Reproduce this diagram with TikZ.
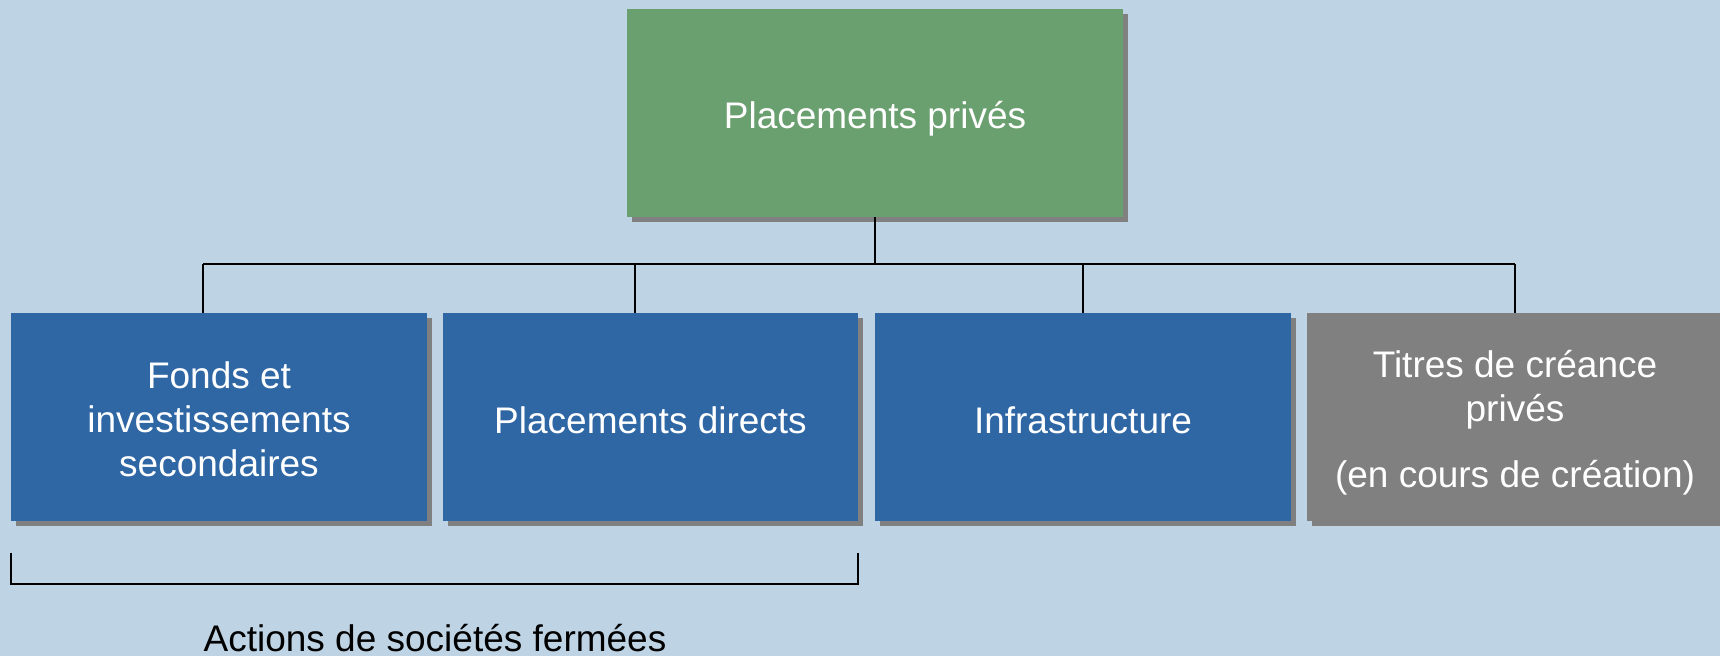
\documentclass[tikz,border=0pt]{standalone}
\usepackage{fontspec}
\setmainfont{Liberation Sans}
\usetikzlibrary{shadows}
\definecolor{bgblue}{RGB}{190,211,228}
\definecolor{topgreen}{RGB}{106,159,111}
\definecolor{boxblue}{RGB}{47,103,165}
\definecolor{boxgray}{RGB}{128,128,128}
\definecolor{shadowgray}{RGB}{128,128,128}
\begin{document}
\begin{tikzpicture}[x=1pt,y=-1pt,
  box/.style={rectangle, inner sep=0pt, minimum height=208pt,
    drop shadow={shadow xshift=5pt, shadow yshift=-5pt, opacity=1, fill=shadowgray}},
  boxtext/.style={anchor=base, inner sep=0pt, text=white, align=center,
    font=\fontsize{37}{44}\selectfont},
  conn/.style={line width=2pt, black}]
  % page background
  \fill[bgblue] (0,0) rectangle (1720,656);
  \useasboundingbox (0,0) rectangle (1720,656);

  % boxes
  \node[box, fill=topgreen, minimum width=496pt] (top) at (875,113) {};
  \node[box, fill=boxblue, minimum width=416pt] (b1) at (219,417) {};
  \node[box, fill=boxblue, minimum width=415pt] (b2) at (650.5,417) {};
  \node[box, fill=boxblue, minimum width=416pt] (b3) at (1083,417) {};
  \node[box, fill=boxgray, minimum width=416pt] (b4) at (1515,417) {};

  % box captions (base anchor on the baseline of the last line)
  \node[boxtext, yshift=-15pt] (ttop) at (top.center) {Placements privés};
  \node[boxtext, yshift=-59pt] (t1) at (b1.center)
    {Fonds et\\investissements\\secondaires};
  \node[boxtext, yshift=-16pt] (t2) at (b2.center) {Placements directs};
  \node[boxtext, yshift=-16pt] (t3) at (b3.center) {Infrastructure};
  \node[boxtext, yshift=-70pt] (t4) at (b4.center)
    {Titres de créance\\privés\\[22pt](en cours de création)};

  % tree connectors
  \coordinate (j1) at (203,264);
  \coordinate (j2) at (635,264);
  \coordinate (j3) at (1083,264);
  \coordinate (j4) at (1515,264);
  \draw[conn] (top.south) -- (top.south |- j1);
  \draw[conn] (j1) -- (j4);
  \draw[conn] (j1) -- (j1 |- b1.north);
  \draw[conn] (j2) -- (j2 |- b2.north);
  \draw[conn] (j3) -- (b3.north);
  \draw[conn] (j4) -- (b4.north);

  % bracket under the first two boxes
  \coordinate (k1) at (11,553);
  \coordinate (k2) at (858,553);
  \draw[conn] (k1) -- (k1 |- 0,584) -- (k2 |- 0,584) -- (k2);
  \node[anchor=base, inner sep=0pt, font=\fontsize{37}{44}\selectfont] (lbl) at (435,651)
    {Actions de sociétés fermées};
\end{tikzpicture}
\end{document}
